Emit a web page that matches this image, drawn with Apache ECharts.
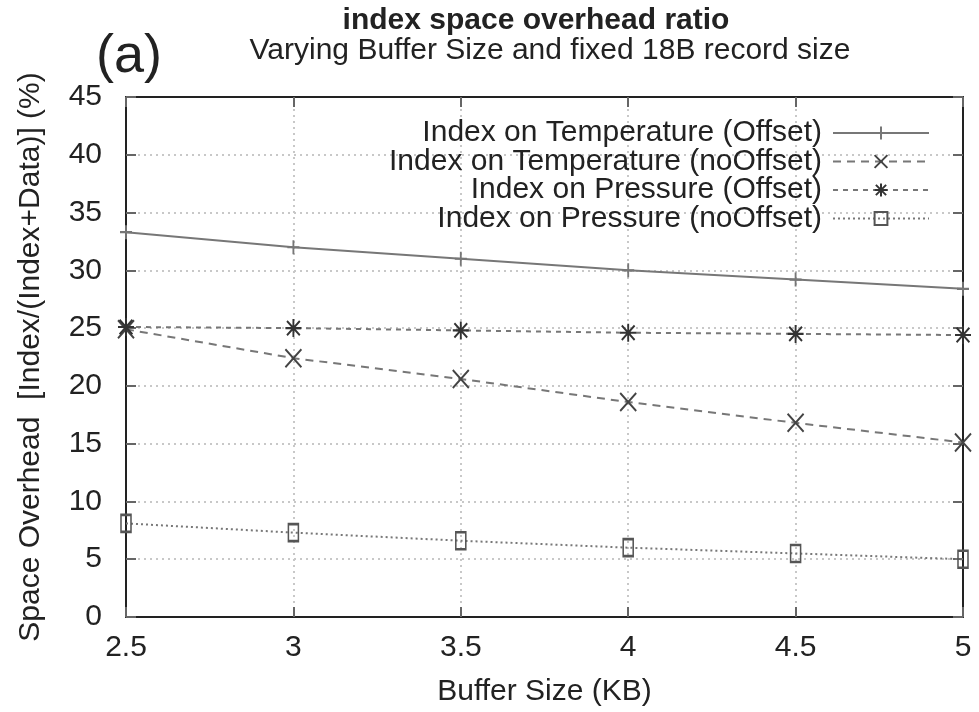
<!DOCTYPE html>
<html>
<head>
<meta charset="utf-8">
<script src="https://cdn.jsdelivr.net/npm/echarts@6/dist/echarts.min.js"></script>
<style>
  html, body { margin: 0; padding: 0; background: #fff; }
  #chart { width: 979px; height: 712px; }
</style>
</head>
<body>
<div id="chart"></div>
<script>
// buffer sizes (KB)
var bufferSize = [2.5, 3, 3.5, 4, 4.5, 5];
var tempOffset = [33.3, 32.0, 31.0, 30.0, 29.2, 28.4];
var tempNoOffset = [24.9, 22.4, 20.6, 18.6, 16.8, 15.1];
var pressOffset = [25.1, 25.0, 24.8, 24.6, 24.5, 24.4];
var pressNoOffset = [8.1, 7.3, 6.6, 6.0, 5.5, 5.0];
var seriesNames = [
  "Index on Temperature (Offset)",
  "Index on Temperature (noOffset)",
  "Index on Pressure (Offset)",
  "Index on Pressure (noOffset)"
];

var FONT = "Liberation Sans";

function pairs(ys) {
  return bufferSize.map(function (x, i) { return [x, ys[i]]; });
}

var chart = echarts.init(document.getElementById("chart"));

function mkSeries(name, data, symbol, size, lineType, markColor) {
  return {
    name: name,
    type: "line",
    data: pairs(data),
    symbol: symbol,
    symbolSize: size,
    showAllSymbol: true,
    clip: false,
    lineStyle: { color: "#777", width: 2, type: lineType },
    itemStyle: { color: "none", borderColor: markColor, borderWidth: 2 },
    emphasis: { disabled: true },
  };
}

var tickStyle = { show: true, inside: true, length: 10, lineStyle: { color: "#666", width: 2 } };
var frameLine = { show: true, onZero: false, lineStyle: { color: "#222", width: 2 } };
var gridDots = { show: true, lineStyle: { color: "#c8c8c8", width: 2, type: [2, 4] } };

var option = {
  animation: false,
  textStyle: { fontFamily: FONT },
  graphic: [
    { type: "text", left: 96, top: 30, style: { text: "(a)", font: "54px " + FONT, fill: "#222" } },
    { type: "text", x: 536, y: 6, style: { text: "index space overhead ratio", font: "bold 30px " + FONT, fill: "#222", textAlign: "center" } },
    { type: "text", x: 550, y: 36, style: { text: "Varying Buffer Size and fixed 18B record size", font: "30px " + FONT, fill: "#222", textAlign: "center" } },
  ],
  legend: {
    orient: "vertical",
    right: 44,
    top: 113,
    align: "right",
    itemWidth: 96,
    itemHeight: 16,
    itemGap: -1.5,
    data: seriesNames,
    textStyle: { fontFamily: FONT, fontSize: 30, color: "#222", padding: [0, 6, 0, 0] },
  },
  grid: { left: 126, right: 16, top: 97, bottom: 94, containLabel: false },
  xAxis: [
    {
      type: "value",
      min: 2.5,
      max: 5,
      interval: 0.5,
      name: "Buffer Size (KB)",
      nameLocation: "middle",
      nameGap: 60,
      nameTextStyle: { fontFamily: FONT, fontSize: 30, color: "#222" },
      axisLine: frameLine,
      axisTick: tickStyle,
      axisLabel: { fontFamily: FONT, fontSize: 30, color: "#222", margin: 16 },
      splitLine: gridDots,
    },
    {
      type: "value",
      position: "top",
      min: 2.5,
      max: 5,
      interval: 0.5,
      axisLine: frameLine,
      axisTick: tickStyle,
      axisLabel: { show: false },
      splitLine: { show: false },
    },
  ],
  yAxis: [
    {
      type: "value",
      min: 0,
      max: 45,
      interval: 5,
      name: "Space Overhead  [Index/(Index+Data)] (%)",
      nameLocation: "middle",
      nameGap: 80,
      nameTextStyle: { fontFamily: FONT, fontSize: 30, color: "#222" },
      axisLine: frameLine,
      axisTick: tickStyle,
      axisLabel: { fontFamily: FONT, fontSize: 30, color: "#222", margin: 24 },
      splitLine: gridDots,
    },
    {
      type: "value",
      position: "right",
      min: 0,
      max: 45,
      interval: 5,
      axisLine: frameLine,
      axisTick: tickStyle,
      axisLabel: { show: false },
      splitLine: { show: false },
    },
  ],
  series: [
    mkSeries(seriesNames[0], tempOffset, "path://M5,0L5,10M0,5L10,5", [12, 14], "solid", "#777"),
    mkSeries(seriesNames[1], tempNoOffset, "path://M0,0L10,10M10,0L0,10", [16, 18], [8, 6], "#444"),
    mkSeries(seriesNames[2], pressOffset, "path://M5,0L5,10M0,5L10,5M1,1L9,9M9,1L1,9", [16, 18], [5, 5], "#333"),
    mkSeries(seriesNames[3], pressNoOffset, "rect", [10, 17], [2, 3], "#555"),
  ],
};
chart.setOption(option);
</script>
</body>
</html>
